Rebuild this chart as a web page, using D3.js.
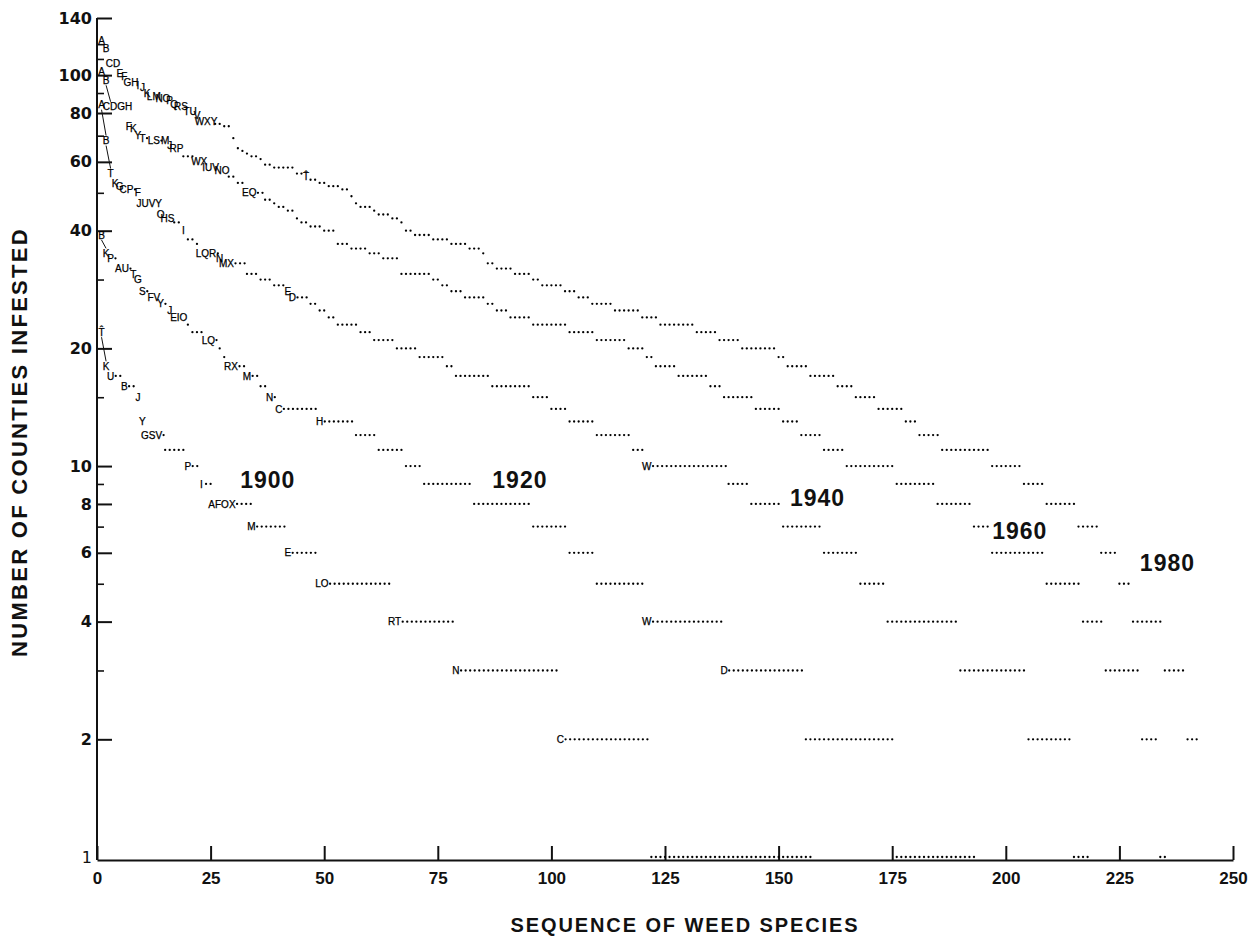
<!DOCTYPE html>
<html>
<head>
<meta charset="utf-8">
<script src="https://cdn.jsdelivr.net/npm/d3@7/dist/d3.min.js"></script>
<style>
  body { margin: 0; background: #fff; }
  svg { display: block; }
  .axis path, .axis line { stroke: #111; stroke-width: 2; }
  .axis.minor line { stroke-width: 1.6; }
  .axis text { font-family: 'Liberation Sans', Arial, sans-serif; font-weight: bold; font-size: 17px; fill: #111; }
  .y-axis text { font-family: 'DejaVu Sans', sans-serif; font-size: 16px; }
  .species { font-family: 'Liberation Sans', Arial, sans-serif; font-size: 10px; fill: #000; stroke: #000; stroke-width: 0.25; }
  .dot { fill: #000; }
  .connector { stroke: #111; stroke-width: 1; }
  .year { font-family: 'Liberation Sans', Arial, sans-serif; font-weight: bold; font-size: 23px; letter-spacing: 1px; fill: #111; }
  .title { font-family: 'Liberation Sans', Arial, sans-serif; font-weight: bold; fill: #111; }
</style>
</head>
<body>
<svg id="chart" width="1255" height="938"></svg>
<script>
'use strict';

// each run: [counties infested, number of species with that count, letters of the labelled species]
const runs1900 = [
  [22, 1, 'T\u0302'], [18, 1, 'K'], [17, 3, 'U'], [16, 3, 'B'], [15, 1, 'J'],
  [13, 1, 'Y'], [12, 4, 'GSV'], [11, 5], [10, 3, 'P'], [9, 3, 'I'],
  [8, 8, 'AFOX'], [7, 8, 'M'], [6, 7, 'E'], [5, 16, 'LO'], [4, 14, 'RT'],
  [3, 23, 'N'], [2, 20, 'C'], [1, 36]
]

const runs1920 = [
  [39, 1, 'B'], [35, 1, 'K'], [34, 2, 'P'], [32, 3, 'AU'], [31, 1, 'T'], [30, 1, 'G'],
  [28, 2, 'S'], [27, 2, 'FV'], [26, 2, 'Y'], [25, 1, 'J'], [24, 3, 'EIO'], [23, 1],
  [22, 3], [21, 3, 'LQ'], [20, 1], [19, 1], [18, 4, 'RX'], [17, 3, 'M'], [16, 2],
  [15, 2, 'N'], [14, 9, 'C'], [13, 8, 'H'], [12, 5], [11, 6], [10, 4], [9, 11],
  [8, 13], [7, 8], [6, 6], [5, 11], [4, 17, 'W'], [3, 18, 'D'], [2, 20], [1, 18]
]

const runs1940 = [
  [84, 1, 'A'], [68, 1, 'B'], [56, 1, 'T'], [53, 1, 'K'], [52, 1, 'G'], [51, 3, 'CP'],
  [50, 1, 'F'], [47, 4, 'JUVY'], [44, 1, 'O'], [43, 2, 'HS'], [42, 2], [40, 1, 'I'],
  [38, 2], [37, 1], [35, 4, 'LQR'], [34, 1, 'N'], [33, 5, 'MX'], [31, 3], [30, 3],
  [29, 3], [28, 1, 'E'], [27, 4, 'D'], [26, 2], [25, 2], [24, 2], [23, 5], [22, 3],
  [21, 5], [20, 5], [19, 6], [18, 2], [17, 8], [16, 9], [15, 4], [14, 4], [13, 6],
  [12, 8], [11, 3], [10, 18, 'W'], [9, 5], [8, 7], [7, 9], [6, 8], [5, 6], [4, 16],
  [3, 15], [2, 10], [1, 4]
]

const runs1960 = [
  [102, 1, 'A'], [97, 1, 'B'], [83, 4, 'CDGH'], [74, 1, 'F'], [73, 1, 'K'], [70, 1, 'Y'],
  [69, 2, 'T'], [68, 3, 'LS'], [68, 1, 'M'], [66, 1, 'J'], [65, 2, 'RP'], [62, 3],
  [60, 2, 'WX'], [58, 3, 'IUV'], [57, 2, 'NO'], [55, 2], [53, 2], [50, 4, 'EQ'],
  [48, 2], [47, 1], [46, 2], [45, 2], [43, 1], [42, 2], [41, 3], [40, 3], [37, 3],
  [36, 4], [35, 3], [34, 4], [31, 7], [30, 2], [29, 2], [28, 3], [27, 5], [26, 2],
  [25, 3], [24, 5], [23, 8], [22, 6], [21, 7], [20, 4], [19, 2], [18, 5], [17, 7],
  [16, 3], [15, 7], [14, 6], [13, 4], [12, 5], [11, 5], [10, 11], [9, 9], [8, 8],
  [7, 4], [6, 12], [5, 8], [4, 5], [3, 8], [2, 4], [1, 2]
]

const runs1980 = [
  [123, 1, 'A'], [117, 1, 'B'], [107, 2, 'CD'], [101, 1, 'E'], [99, 1, 'F'], [96, 2, 'GH'],
  [94, 1, 'I'], [93, 1, 'J'], [90, 1, 'K'], [88, 2, 'LM'], [87, 2, 'NO'], [86, 1, 'P'],
  [84, 1, 'Q'], [83, 2, 'RS'], [81, 2, 'TU'], [79, 1, 'V'], [76, 3, 'WXY'], [75, 2],
  [74, 2], [69, 1], [65, 1], [64, 1], [63, 1], [62, 2], [61, 1], [59, 2], [58, 5],
  [56, 2], [55, 1, 'T\u0302'], [54, 2], [53, 2], [52, 3], [51, 2], [49, 1], [47, 1],
  [46, 3], [45, 1], [44, 3], [43, 2], [42, 1], [40, 2], [39, 4], [38, 4], [37, 4],
  [36, 3], [35, 1], [33, 2], [32, 4], [31, 4], [30, 2], [29, 5], [28, 3], [27, 3],
  [26, 5], [25, 6], [24, 4], [23, 8], [22, 5], [21, 5], [20, 8], [19, 2], [18, 5],
  [17, 6], [16, 4], [15, 5], [14, 6], [13, 3], [12, 5], [11, 11], [10, 7], [9, 5],
  [8, 7], [7, 5], [6, 4], [5, 3], [4, 7], [3, 5], [2, 3]
]

const years       = [1900, 1920, 1940, 1960, 1980]
const yearRuns    = [runs1900, runs1920, runs1940, runs1960, runs1980]
// rank pairs joined by a thin stroke at the head of each curve
const connectors  = [[[1, 2]], [[1, 2]], [[1, 2], [2, 3]], [[2, 3]], []]
// where the year tag sits, in [rank, counties]
const yearTagAt   = [[31.5, 9.24], [87, 9.22], [152.5, 8.32], [197, 6.84], [229.5, 5.65]]

const xTicks      = [0, 25, 50, 75, 100, 125, 150, 175, 200, 225, 250]
const yTicks      = [1, 2, 4, 6, 8, 10, 20, 40, 60, 80, 100, 140]
const yMinorTicks = [3, 5, 7, 9, 15, 30, 50, 70, 90, 110, 120]

const svg   = d3.select('#chart')
const x     = d3.scaleLinear().domain([0, 250]).range([97, 1233])
const y     = d3.scaleLog().domain([1, 140]).range([857, 18])
const floor = y(1) + 3   // the base line sits a little under the one-county row

// axes, ticks pointing into the plot
svg.append('g')
  .attr('class', 'axis minor')
  .attr('transform', `translate(${x(0)},0)`)
  .call(d3.axisLeft(y).tickValues(yMinorTicks).tickFormat('').tickSizeInner(-7).tickSizeOuter(0))
  .call((g) => g.select('.domain').remove())

svg.append('g')
  .attr('class', 'axis y-axis')
  .attr('transform', `translate(${x(0)},0)`)
  .call(d3.axisLeft(y).tickValues(yTicks).tickFormat(d3.format('d')).tickSizeInner(-15).tickSizeOuter(0).tickPadding(5))
  .call((g) => g.select('.domain').attr('d', `M0,${floor}V${y(140)}`))
  .call((g) => g.selectAll('.tick').filter((d) => d === 1).select('line').remove())
  .call((g) => g.selectAll('.tick text').filter((d) => d === 1).style('font-weight', 'normal'))

svg.append('g')
  .attr('class', 'axis x-axis')
  .attr('transform', `translate(0,${floor})`)
  .call(d3.axisBottom(x).tickValues(xTicks).tickSizeInner(-14).tickSizeOuter(0).tickPadding(12))

svg.append('text')
  .attr('class', 'title')
  .attr('x', 685)
  .attr('y', 932)
  .attr('text-anchor', 'middle')
  .style('font-size', '20px')
  .style('letter-spacing', '1.9px')
  .text('SEQUENCE OF WEED SPECIES')

svg.append('text')
  .attr('class', 'title')
  .attr('transform', 'translate(27,442) rotate(-90)')
  .attr('text-anchor', 'middle')
  .style('font-size', '22px')
  .style('letter-spacing', '2.3px')
  .text('NUMBER OF COUNTIES INFESTED')

const letterCount = (label) => label.replace(/[\u0300-\u036f]/g, '').length

function layoutRuns(runs) {
  let rank = 1
  return runs.map(([count, n, label = '']) => {
    const run = {count, n, label, first: rank, k: letterCount(label)}
    rank += n
    return run
  })
}

years.forEach((year, i) => {
  const g       = svg.append('g').attr('class', `series s${year}`)
  const runs    = layoutRuns(yearRuns[i])
  const countAt = []
  runs.forEach((run) => d3.range(run.n).forEach((j) => { countAt[run.first + j] = run.count }))

  g.selectAll('line.connector')
    .data(connectors[i])
    .enter()
    .append('line')
      .attr('class', 'connector')
      .attr('x1', ([a])    => x(a))
      .attr('y1', ([a])    => y(countAt[a]) + 5)
      .attr('x2', ([, b])  => x(b))
      .attr('y2', ([, b])  => y(countAt[b]) - 5)

  runs.forEach((run) => {
    let shift = 0
    if (run.k) {
      const cx   = (x(run.first) + x(run.first + run.k - 1)) / 2
      const text = g.append('text')
        .attr('class',       'species')
        .attr('x',           cx)
        .attr('y',           y(run.count))
        .attr('dy',          '0.36em')
        .attr('text-anchor', 'middle')
        .text(run.label)
      // letters are wider than a rank step, so the trailing dots move along
      const end = cx + text.node().getComputedTextLength() / 2
      shift = Math.max(0, end + 1.5 - x(run.first + run.k))
    }
    g.selectAll(null)
      .data(d3.range(run.first + run.k, run.first + run.n))
      .enter()
      .append('circle')
        .attr('class', 'dot')
        .attr('cx',    (r) => x(r) + shift)
        .attr('cy',    y(run.count))
        .attr('r',     1.15)
  })

  svg.append('text')
    .attr('class', 'year')
    .attr('x',     x(yearTagAt[i][0]))
    .attr('y',     y(yearTagAt[i][1]))
    .attr('dy',    '0.36em')
    .text(year)
})
</script>
</body>
</html>
